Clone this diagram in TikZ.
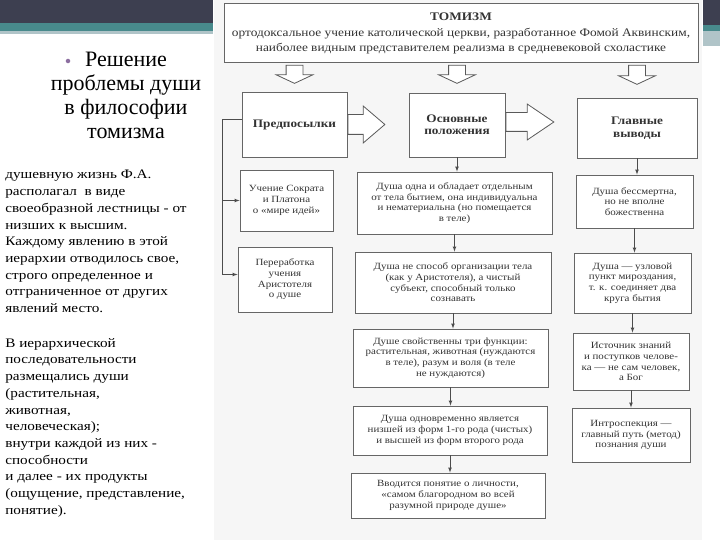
\documentclass[tikz,border=0pt]{standalone}
\usepackage{fontspec}
\setmainfont{Liberation Serif}
\newfontfamily\scanfont[FakeStretch=1.15]{Liberation Serif}
\newfontfamily\slidefont[FakeStretch=1.17]{Liberation Serif}
\usetikzlibrary{arrows,positioning,calc,shapes.arrows}
\definecolor{slidedark}{RGB}{61,63,80}
\definecolor{slideteal}{RGB}{72,138,140}
\definecolor{slidelight}{RGB}{176,196,200}
\definecolor{scanbg}{RGB}{246,246,246}
\definecolor{bulletc}{RGB}{140,110,160}
\tikzset{
  flow/.style={>=latex,line width=0.7pt,draw=black!70},
  blk/.style={draw=black!60,line width=0.9pt,fill=white,align=center,
    font=\scanfont\fontsize{9.5}{10.7}\selectfont,text=black!80,inner sep=2pt},
  headblk/.style={blk,font=\scanfont\bfseries\fontsize{11.5}{12.5}\selectfont},
  bigarr/.style={single arrow,draw=black!65,line width=0.8pt,fill=white,
    inner xsep=0pt,anchor=tail},
  para/.style={anchor=north west,inner sep=0pt,align=left,
    font=\slidefont\fontsize{13}{16.7}\selectfont},
}
\begin{document}
\begin{tikzpicture}[x=1pt,y=-1pt,flow]
\useasboundingbox (0,0) rectangle (720,540);
% slide frame
\fill[scanbg] (214,0) rectangle (702,540);
\fill[slidedark] (0,0) rectangle (213,23);
\fill[slideteal] (0,23) rectangle (213,31);
\fill[slidelight] (0,31) rectangle (213,34);
\fill[slidedark] (703,0) rectangle (720,25);
\fill[slideteal] (703,25) rectangle (720,31);
\fill[slidelight] (703,31) rectangle (720,46);
% left column of the slide
\node[circle,fill=bulletc,inner sep=1.6pt] (bul) at (68,61) {};
\node[anchor=north,inner sep=0pt,align=center,font=\fontsize{22}{24}\selectfont]
  (title) at (126,52) {Решение\\проблемы души\\в философии\\томизма};
\node[para] (txta) at (5,170) {душевную жизнь Ф.А.\\
располагал\ \ в виде\\
своеобразной лестницы - от\\
низших к высшим.\\
Каждому явлению в этой\\
иерархии отводилось свое,\\
строго определенное и\\
отграниченное от других\\
явлений место.};
\node[para] (txtb) at (5,338) {В иерархической\\
последовательности\\
размещались души\\
(растительная,\\
животная,\\
человеческая);\\
внутри каждой из них -\\
способности\\
и далее - их продукты\\
(ощущение, представление,\\
понятие).};
% scheme
\node[blk,minimum width=474pt,minimum height=59pt,font=\scanfont\fontsize{11.6}{15}\selectfont]
  (tom) at (461,33) {{\bfseries ТОМИЗМ}\\[1pt]
  ортодоксальное учение католической церкви, разработанное Фомой Аквинским,\\
  наиболее видным представителем реализма в средневековой схоластике};
\node[headblk,minimum width=105pt,minimum height=65pt] (pred) at (294.5,124.5) {Предпосылки};
\node[headblk,minimum width=96pt,minimum height=64pt] (osn) at (457,125) {Основные\\положения};
\node[headblk,minimum width=120pt,minimum height=60pt] (glav) at (637,128) {Главные\\выводы};
\node[blk,minimum width=93pt,minimum height=61pt] (uchen) at (286.5,200.5)
  {Учение Сократа\\и Платона\\о «мире идей»};
\node[blk,minimum width=94pt,minimum height=65pt] (pererab) at (285,279.5)
  {Переработка\\учения\\Аристотеля\\о душе};
\node[blk,minimum width=195pt,minimum height=62pt] (odna) at (454.5,203)
  {Душа одна и обладает отдельным\\от тела бытием, она индивидуальна\\и нематериальна (но помещается\\в теле)};
\node[blk,minimum width=196pt,minimum height=61pt] (sposob) at (453,282.5)
  {Душа не способ организации тела\\(как у Аристотеля), а чистый\\субъект, способный только\\сознавать};
\node[blk,minimum width=195pt,minimum height=58pt] (funk) at (450.5,358)
  {Душе свойственны три функции:\\растительная, животная (нуждаются\\в теле), разум и воля (в теле\\не нуждаются)};
\node[blk,minimum width=194pt,minimum height=49pt] (forma) at (450,430.5)
  {Душа одновременно является\\низшей из форм 1-го рода (чистых)\\и высшей из форм второго рода};
\node[blk,minimum width=194pt,minimum height=45pt] (lich) at (448,495.5)
  {Вводится понятие о личности,\\«самом благородном во всей\\разумной природе душе»};
\node[blk,minimum width=117pt,minimum height=53pt] (bessm) at (634.5,201.5)
  {Душа бессмертна,\\но не вполне\\божественна};
\node[blk,minimum width=117pt,minimum height=60pt] (uzel) at (632.5,283)
  {Душа — узловой\\пункт мироздания,\\т. к. соединяет два\\круга бытия};
\node[blk,minimum width=116pt,minimum height=57pt] (istoch) at (631,361.5)
  {Источник знаний\\и поступков челове-\\ка — не сам человек,\\а Бог};
\node[blk,minimum width=118pt,minimum height=54pt] (intro) at (631,435)
  {Интроспекция —\\главный путь (метод)\\познания души};
% hollow arrows
\node[bigarr,rotate=-90,inner ysep=8pt,minimum height=18pt,single arrow head extend=10pt,
  single arrow tip angle=130] (da) at ([yshift=-2pt]tom.south -| pred) {};
\node[bigarr,rotate=-90,inner ysep=8pt,minimum height=18pt,single arrow head extend=10pt,
  single arrow tip angle=130] (db) at ([yshift=-2pt]tom.south -| osn) {};
\node[bigarr,rotate=-90,inner ysep=8pt,minimum height=19pt,single arrow head extend=10pt,
  single arrow tip angle=130] (dc) at ([yshift=-2pt]tom.south -| glav) {};
\node[bigarr,inner ysep=9.5pt,minimum height=37pt,single arrow head extend=8.5pt,
  single arrow tip angle=81] (ra) at ([yshift=0pt]pred.east) {};
\node[bigarr,inner ysep=9pt,minimum height=48pt,single arrow head extend=8.5pt,
  single arrow tip angle=68] (rb) at ([yshift=3pt]osn.east) {};
% connectors
\coordinate (trunk) at (222,119);
\draw[->] ([yshift=5.5pt]pred.west) -- (trunk) |- ([yshift=5pt]pererab.west);
\draw[->] (trunk |- uchen.west) -- (uchen.west);
\draw[->] (osn.south) -- (osn.south |- odna.north);
\draw[->] (odna.south) -- (odna.south |- sposob.north);
\draw[->] (sposob.south) -- (sposob.south |- funk.north);
\draw[->] (funk.south) -- (funk.south |- forma.north);
\draw[->] (forma.south) -- (forma.south |- lich.north);
\draw[->] (glav.south) -- (glav.south |- bessm.north);
\draw[->] (bessm.south) -- (bessm.south |- uzel.north);
\draw[->] (uzel.south) -- (uzel.south |- istoch.north);
\draw[->] (istoch.south) -- (istoch.south |- intro.north);
\end{tikzpicture}
\end{document}
